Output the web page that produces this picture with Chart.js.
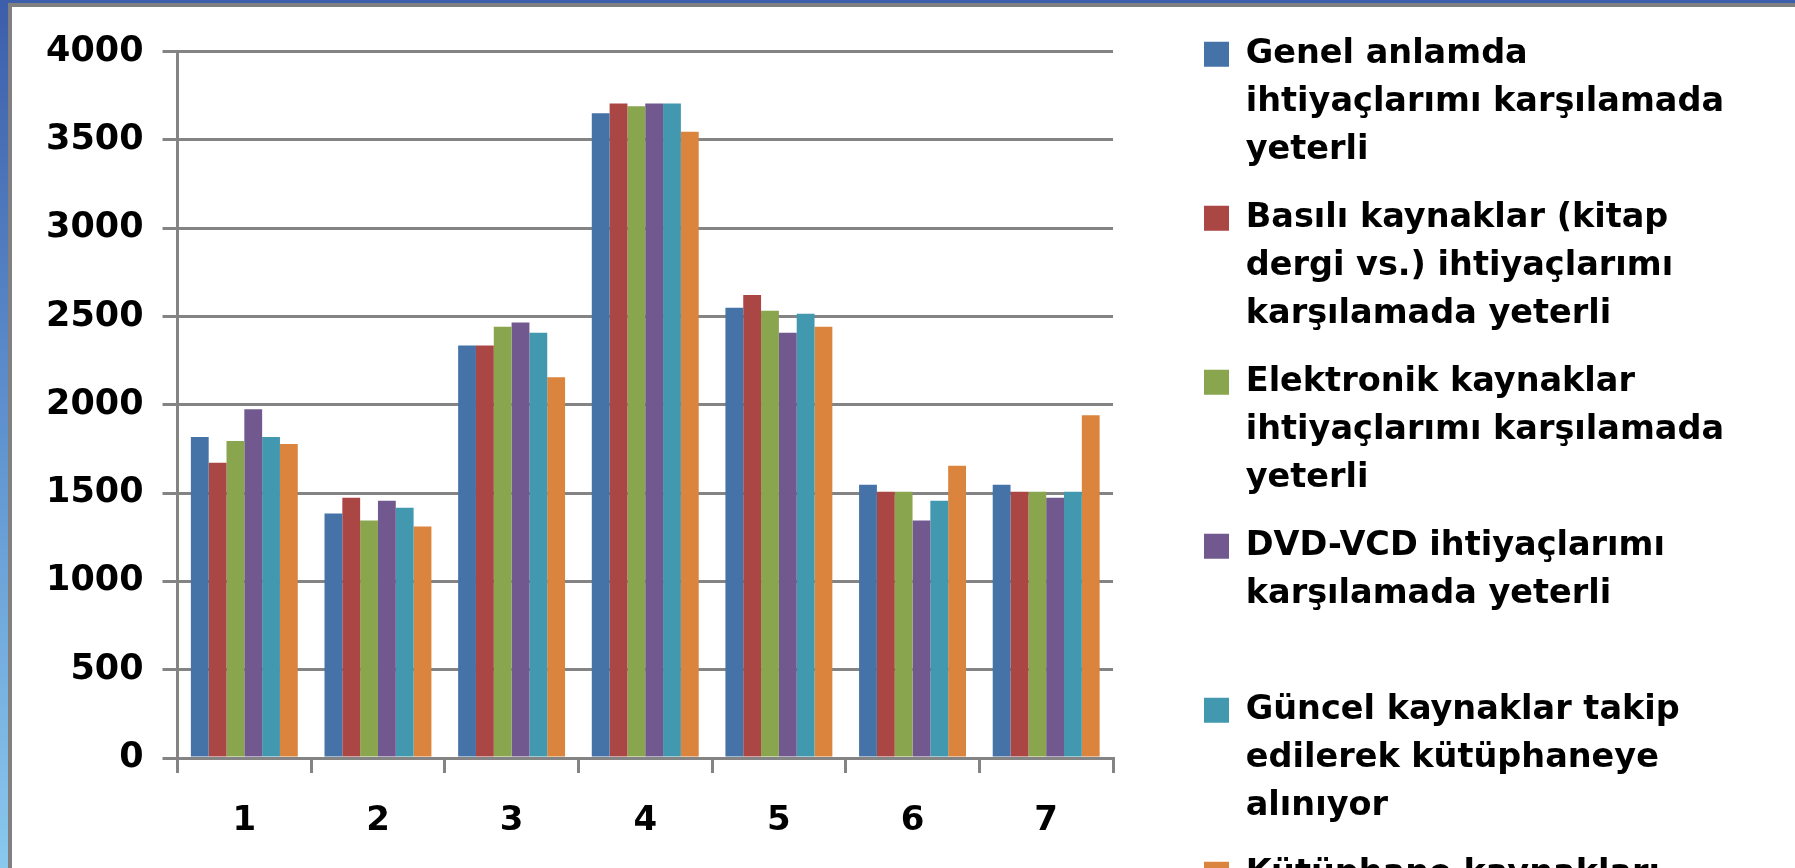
<!DOCTYPE html>
<html>
<head>
<meta charset="utf-8">
<script src="https://cdn.jsdelivr.net/npm/chart.js@4/dist/chart.umd.min.js"></script>
<style>
  html, body { margin: 0; padding: 0; width: 1795px; height: 868px; overflow: hidden; }
  body { background: linear-gradient(to bottom, #3d5eaa 0%, #5f93cf 50%, #8ac8ee 100%); position: relative; }
  #frame { position: absolute; left: 8px; top: 3px; width: 1800px; height: 900px; background: #ffffff;
           border-left: 4px solid #808080; border-top: 4px solid #808080; }
  #c { position: absolute; left: 0; top: 0; }
</style>
</head>
<body>
<div id="frame"></div>
<canvas id="c" width="1795" height="1100"></canvas>
<script>
// ---- data ----
const categories = ["1", "2", "3", "4", "5", "6", "7"];
const yTicks = [0, 500, 1000, 1500, 2000, 2500, 3000, 3500, 4000];

const genelAnlamda   = [1817, 1384, 2335, 3650, 2549, 1547, 1547];
const basiliKaynak   = [1671, 1474, 2335, 3705, 2622, 1508, 1508];
const elektronik     = [1795, 1344, 2442, 3690, 2532, 1507, 1507];
const dvdVcd         = [1975, 1457, 2465, 3705, 2408, 1344, 1474];
const guncelKaynak   = [1817, 1417, 2408, 3705, 2515, 1457, 1507];
const kutuphane      = [1778, 1310, 2155, 3545, 2442, 1654, 1941];

const legendLines = [
  ["Genel anlamda", "ihtiyaçlarımı karşılamada", "yeterli"],
  ["Basılı kaynaklar (kitap", "dergi vs.) ihtiyaçlarımı", "karşılamada yeterli"],
  ["Elektronik kaynaklar", "ihtiyaçlarımı karşılamada", "yeterli"],
  ["DVD-VCD ihtiyaçlarımı", "karşılamada yeterli", ""],
  ["Güncel kaynaklar takip", "edilerek kütüphaneye", "alınıyor"],
  ["Kütüphane kaynakları", "ihtiyaçlarımı karşılamada", "yeterli"]
];
const seriesColors = ["#4572a7", "#aa4643", "#89a54e", "#71588f", "#4198af", "#db843d"];
const seriesValues = [genelAnlamda, basiliKaynak, elektronik, dvdVcd, guncelKaynak, kutuphane];

// ---- layout constants ----
const GRID = "#848484";
const FONT = { family: "'DejaVu Sans'", size: 34, weight: "bold" };

const legendWidthFix = {
  id: "legendWidthFix",
  beforeLayout(chart) {
    const lg = chart.legend;
    if (lg && !lg._wfix) {
      const orig = lg.fit.bind(lg);
      lg.fit = function () { orig(); this.width = 611; };
      lg._wfix = true;
    }
  }
};

const datasets = seriesValues.map((vals, i) => ({
  label: legendLines[i].join(" "),
  data: vals,
  backgroundColor: seriesColors[i],
  borderWidth: 0,
  xAxisID: "x",
  yAxisID: "y",
  categoryPercentage: 0.8,
  barPercentage: 1.0
}));

new Chart(document.getElementById("c"), {
  type: "bar",
  data: { labels: categories, datasets },
  plugins: [legendWidthFix],
  options: {
    responsive: false,
    animation: false,
    devicePixelRatio: 1,
    events: [],
    layout: { padding: { left: 0, top: 17.5, right: 0, bottom: 0 } },
    plugins: {
      tooltip: { enabled: false },
      legend: {
        position: "right",
        align: "start",
        labels: {
          color: "#000000",
          font: { family: "'DejaVu Sans'", size: 33.5, weight: "bold", lineHeight: 48 / 33.5 },
          boxWidth: 25,
          boxHeight: 25,
          padding: 20,
          generateLabels(chart) {
            const items = Chart.defaults.plugins.legend.labels.generateLabels(chart);
            items.forEach((it, i) => { it.text = legendLines[i]; it.lineWidth = 0; });
            return items;
          }
        }
      }
    },
    scales: {
      x: {
        type: "category",
        position: "bottom",
        offset: true,
        grid: { display: true, offset: true, drawOnChartArea: false, drawTicks: true, tickLength: 15, color: GRID, lineWidth: 3 },
        border: { display: true, color: GRID, width: 3 },
        ticks: { color: "#000000", font: FONT, padding: 28, maxRotation: 0 },
        afterFit(s) { s.height = 1100 - 758; }
      },
      y: {
        type: "linear",
        position: "left",
        min: 0,
        max: 4000,
        afterBuildTicks(s) { s.ticks = yTicks.map(v => ({ value: v })); },
        grid: { display: true, drawOnChartArea: true, drawTicks: true, tickLength: 15, color: GRID, lineWidth: 3 },
        border: { display: true, color: GRID, width: 3 },
        ticks: { color: "#000000", font: { family: "'DejaVu Sans'", size: 35, weight: "bold" }, padding: 19, callback: (v) => String(v) },
        afterFit(s) { s.width = 177.5; }
      },
      xTop: {
        type: "linear",
        axis: "x",
        position: "top",
        display: true,
        grid: { display: false },
        border: { display: false },
        ticks: { display: false },
        afterFit(s) { s.height = 34; }
      },
      yRight: {
        type: "linear",
        axis: "y",
        position: "right",
        display: true,
        grid: { display: false },
        border: { display: false },
        ticks: { display: false },
        afterFit(s) { s.width = 71; }
      }
    }
  }
});
</script>
</body>
</html>
